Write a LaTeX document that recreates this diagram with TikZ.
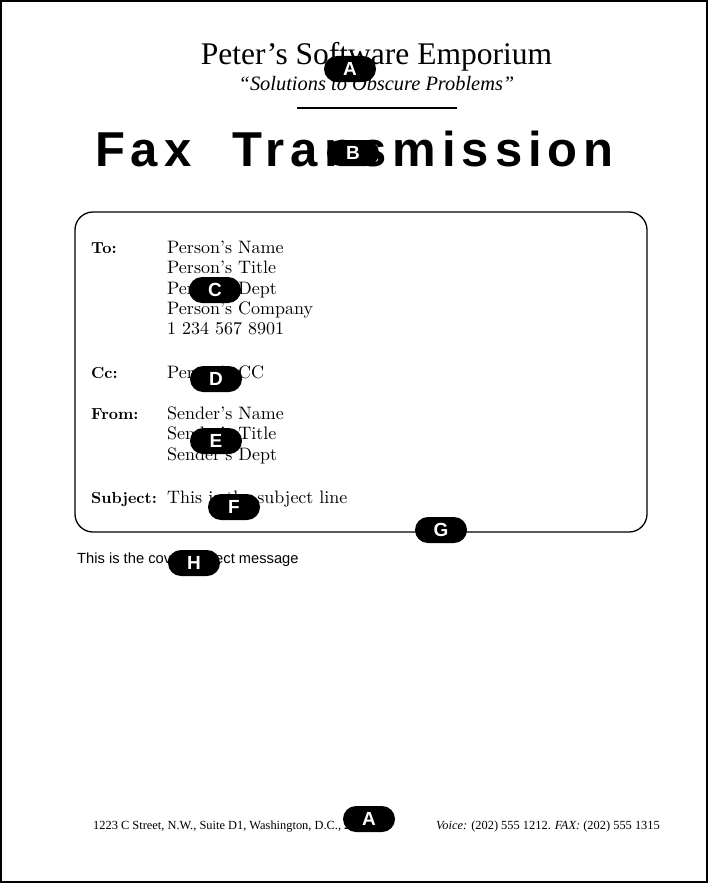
\documentclass[tikz,border=0pt]{standalone}
\usepackage{fontspec}
\newfontfamily\timesf{Liberation Serif}[Ligatures=TeX]
\newfontfamily\helvf{Liberation Sans}
\newfontfamily\faxf{Liberation Sans}[LetterSpace=12]
\newfontfamily\lmten{lmroman10-regular.otf}[BoldFont=lmroman10-bold.otf, Ligatures=TeX]
\begin{document}
\begin{tikzpicture}[x=1pt,y=-1pt,
  badge/.style={fill=black, rounded corners=13pt, minimum width=52pt, minimum height=26pt, inner sep=0pt, text=white, font=\helvf\bfseries\fontsize{19}{19}\selectfont},
  boxtxt/.style={anchor=base west, inner sep=0pt, font=\lmten\fontsize{18}{21}\selectfont},
  boxlbl/.style={anchor=base west, inner sep=0pt, font=\lmten\bfseries\fontsize{16}{21}\selectfont},
  foot/.style={inner sep=0pt, font=\timesf\fontsize{12.4}{14}\selectfont}
]
\useasboundingbox (0,0) rectangle (708,883);
\draw[line width=2pt] (1,1) rectangle (707,882);

% letterhead
\node[anchor=base, inner sep=0pt, font=\timesf\fontsize{31.5}{32}\selectfont] (title) at (376.5,65) {Peter’s Software Emporium};
\node[anchor=base, inner sep=0pt, font=\timesf\itshape\fontsize{20.4}{22}\selectfont] (motto) at (376.5,90) {``Solutions to Obscure Problems''};
\coordinate (ruleL) at (297,108);
\coordinate (ruleR) at (457,108);
\draw[line width=1.2pt] (ruleL) -- (ruleR);
\node[anchor=base west, inner sep=0pt, font=\faxf\bfseries\fontsize{49}{50}\selectfont] (fax) at (95,166) {Fax\hspace*{22pt} Transmission};

% header box
\node[draw, line width=1.3pt, rounded corners=18pt, minimum width=572pt, minimum height=320pt, inner sep=0pt] (infobox) at (361,372) {};

\node[boxlbl] (tolbl) at (91,253) {To:};
\node[boxtxt] (to1) at (167,253) {Person’s Name};
\node[boxtxt] (to2) at (167,273.5) {Person’s Title};
\node[boxtxt] (to3) at (167,294) {Person’s Dept};
\node[boxtxt] (to4) at (167,314) {Person’s Company};
\node[boxtxt] (to5) at (167,334.5) {1 234 567 8901};

\node[boxlbl] (cclbl) at (91,378.5) {Cc:};
\node[boxtxt] (cc1) at (167,378.5) {Person’s CC};

\node[boxlbl] (fromlbl) at (91,419) {From:};
\node[boxtxt] (from1) at (167,419) {Sender’s Name};
\node[boxtxt] (from2) at (167,439.5) {Sender’s Title};
\node[boxtxt] (from3) at (167,460) {Sender’s Dept};

\node[boxlbl] (subjlbl) at (91,503) {Subject:};
\node[boxtxt] (subj) at (167,503) {This is the subject line};

% message
\node[anchor=base west, inner sep=0pt, font=\helvf\fontsize{14.7}{16}\selectfont] (msg) at (77,563) {This is the cover subject message};

% footer
\node[foot, anchor=base west] (addr) at (93,829) {1223 C Street, N.W., Suite D1, Washington, D.C., 20001};
\node[foot, anchor=base east] (phone) at (660,829) {\textit{Voice:} (202) 555 1212. \textit{FAX:} (202) 555 1315};

% callout badges
\node[badge] (bA1) at (350,69) {A};
\node[badge] (bB) at (353,153) {B};
\node[badge] (bC) at (215,290) {C};
\node[badge] (bD) at (216,379) {D};
\node[badge] (bE) at (216,441) {E};
\node[badge] (bF) at (234,507) {F};
\node[badge] (bG) at (441,530) {G};
\node[badge] (bH) at (194,563) {H};
\node[badge] (bA2) at (369,819) {A};
\end{tikzpicture}
\end{document}
